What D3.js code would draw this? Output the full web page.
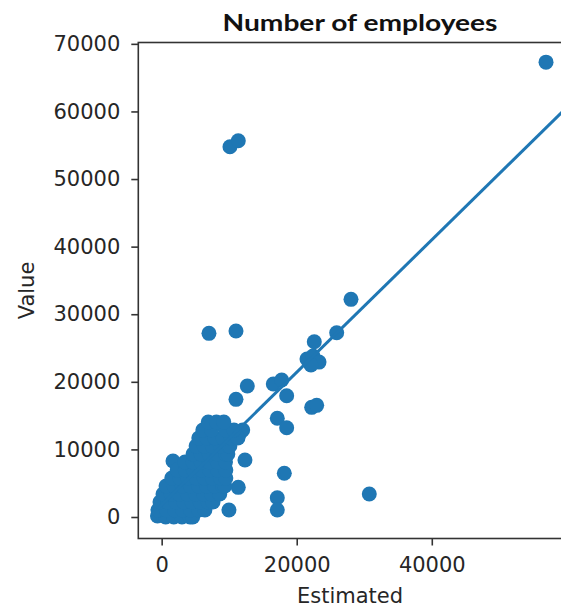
<!DOCTYPE html>
<html>
<head>
<meta charset="utf-8">
<script src="https://cdn.jsdelivr.net/npm/d3@7"></script>
<style>
  body { margin: 0; background: #fff; overflow: hidden; }
  .axis text { font-family: "DejaVu Sans", sans-serif; font-size: 21px; fill: #262626; }
  .axis line { stroke: #333; stroke-width: 1.6; }
</style>
</head>
<body>
<script>

// scatter data (Estimated vs Value)
var estimated = [
  // outliers
  56915, 10115, 11345, 28035, 7005, 11005, 25920, 22600,
  21520, 22410, 23300, 22110,
  12680, 11005, 16530, 17770, 18510, 22215, 22955, 17120, 18510,
  12335, 18160, 30745, 11345, 17120, 17120, 9965, 1675, 11595, 12000,
  // dense cluster, row by row
  -620, 600, 1800, 3000, 4200, 4600,
  -550, 700, 1900, 3100, 4300, 5500, 6400,
  -250, 900, 2100, 3300, 4500, 5700, 6900, 7600,
  200, 1400, 2600, 3800, 5000, 6200, 7400, 8600,
  650, 1850, 3050, 4250, 5450, 6650, 7850, 9050, 9350,
  1500, 2700, 3900, 5100, 6300, 7500, 8700, 9500,
  2300, 3500, 4700, 5900, 7100, 8300, 9500,
  3450, 4650, 5850, 7050, 8250, 9450,
  4650, 5850, 7050, 8250, 9450, 9800,
  5100, 6300, 7500, 8700, 9900, 10100,
  5500, 6700, 7900, 9100, 10300, 11300,
  6100, 7400, 9500, 10700,
  6900, 8100, 9200
];
var value = [
  67295, 54770, 55655, 32200, 27170, 27510, 27260, 25930,
  23370, 23810, 22920, 22480,
  19375, 17410, 19670, 20260, 17940, 16225, 16520, 14600, 13210,
  8430, 6465, 3400, 4390, 2855, 1035, 1035, 8280, 12420, 12870,
  150, 0, 0, 0, 0, 0,
  1035, 1035, 1035, 1035, 1035, 1035, 1035,
  2220, 2220, 2220, 2220, 2220, 2220, 2220, 2220,
  3400, 3400, 3400, 3400, 3400, 3400, 3400, 3400,
  4585, 4585, 4585, 4585, 4585, 4585, 4585, 4585, 4585,
  5770, 5770, 5770, 5770, 5770, 5770, 5770, 5770,
  6950, 6950, 6950, 6950, 6950, 6950, 6950,
  8135, 8135, 8135, 8135, 8135, 8135,
  9320, 9320, 9320, 9320, 9320, 9320,
  10500, 10500, 10500, 10500, 10500, 10500,
  11685, 11685, 11685, 11685, 11685, 11685,
  12870, 12870, 12870, 12870,
  14050, 14050, 14050
];

// fitted line end points
var fitEstimated = [-600, 61000];
var fitValue = [1230, 61570];

var xTicks = [0, 20000, 40000];
var yTicks = [0, 10000, 20000, 30000, 40000, 50000, 60000, 70000];

var def_width = 561, def_height = 609;
var margin = {left: 138.3, right: 565.5, top: 42.5, bottom: 538.5};

var svg = d3.select("body").append("svg")
    .attr("width", def_width).attr("height", def_height);

var x = d3.scaleLinear().domain([-3460, 59800]).range([margin.left, margin.right]),
    y = d3.scaleLinear().domain([-3180, 70200]).range([margin.bottom, margin.top]);

svg.append("defs").append("clipPath").attr("id", "plotclip")
  .append("rect")
    .attr("x", margin.left).attr("y", margin.top)
    .attr("width", margin.right - margin.left).attr("height", margin.bottom - margin.top);

var plot = svg.append("g").attr("clip-path", "url(#plotclip)");

var pts = d3.range(estimated.length).map(function(i) { return [estimated[i], value[i]]; });

plot.selectAll(".dot")
  .data(pts)
  .enter().append("circle")
    .attr("class", "dot")
    .attr("cx", function(d) { return x(d[0]); })
    .attr("cy", function(d) { return y(d[1]); })
    .attr("r", 7.5)
    .attr("fill", "#1f77b4");

var line = d3.line()
    .x(function(d) { return x(d[0]); })
    .y(function(d) { return y(d[1]); });

plot.append("path")
  .datum(fitEstimated.map(function(v, i) { return [v, fitValue[i]]; }))
    .attr("d", line)
    .attr("fill", "none")
    .attr("stroke", "#1f77b4")
    .attr("stroke-width", 3);

// axes
svg.append("g")
    .attr("class", "axis axis--x")
    .attr("transform", "translate(0," + margin.bottom + ")")
    .call(d3.axisBottom(x).tickValues(xTicks).tickFormat(d3.format("d")).tickSize(7).tickPadding(12))
    .call(function(g) { g.select(".domain").remove(); });

svg.append("g")
    .attr("class", "axis axis--y")
    .attr("transform", "translate(" + margin.left + ",0)")
    .call(d3.axisLeft(y).tickValues(yTicks).tickFormat(d3.format("d")).tickSize(7).tickPadding(11))
    .call(function(g) { g.select(".domain").remove(); });

// spines
svg.append("rect")
    .attr("x", margin.left).attr("y", margin.top)
    .attr("width", margin.right - margin.left).attr("height", margin.bottom - margin.top)
    .attr("fill", "none")
    .attr("stroke", "#333")
    .attr("stroke-width", 1.6);

svg.append("text")
    .attr("x", 350).attr("y", 603)
    .attr("text-anchor", "middle")
    .style("font-family", "DejaVu Sans, sans-serif")
    .style("font-size", "21px")
    .attr("fill", "#262626")
    .text("Estimated");

svg.append("text")
    .attr("transform", "translate(34," + ((margin.top + margin.bottom) / 2) + ") rotate(-90)")
    .attr("text-anchor", "middle")
    .style("font-family", "DejaVu Sans, sans-serif")
    .style("font-size", "21px")
    .attr("fill", "#262626")
    .text("Value");

svg.append("text")
    .attr("x", 360).attr("y", 31)
    .attr("text-anchor", "middle")
    .attr("textLength", 275)
    .attr("lengthAdjust", "spacingAndGlyphs")
    .style("font-family", "Lato, sans-serif")
    .style("font-size", "22px")
    .style("font-weight", "bold")
    .attr("fill", "#111")
    .text("Number of employees");

</script>
</body>
</html>
